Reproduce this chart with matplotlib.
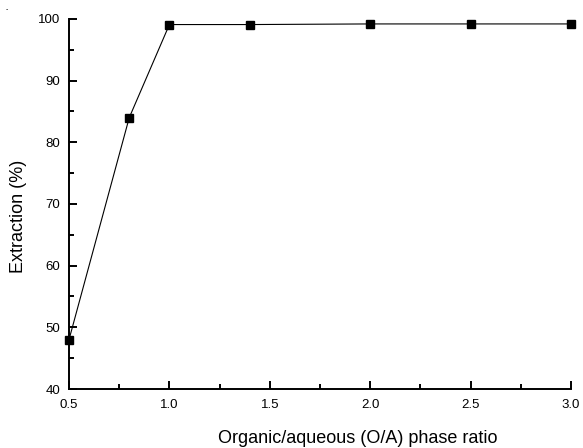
import matplotlib
matplotlib.use("Agg")
import matplotlib.pyplot as plt
from matplotlib.ticker import MultipleLocator

ratio = [0.5, 0.8, 1.0, 1.4, 2.0, 2.5, 3.0]
extraction = [48.0, 84.0, 99.1, 99.1, 99.2, 99.2, 99.2]

plt.rcParams['font.family'] = ['Liberation Sans', 'DejaVu Sans']

fig = plt.figure(figsize=(5.83, 4.48), dpi=100)
ax = fig.add_axes([69/583, 1-389/448, (571-69)/583, (389-19)/448])

ax.plot(ratio, extraction, color='black', lw=0.8, marker='s', ms=6,
        mfc='black', mec='black', clip_on=False, zorder=3)

ax.set_xlim(0.5, 3.0)
ax.set_ylim(40, 100)
ax.xaxis.set_major_locator(MultipleLocator(0.5))
ax.xaxis.set_minor_locator(MultipleLocator(0.25))
ax.yaxis.set_major_locator(MultipleLocator(10))
ax.yaxis.set_minor_locator(MultipleLocator(5))
ax.xaxis.set_major_formatter(plt.FormatStrFormatter('%.1f'))

for s in ['top', 'right']:
    ax.spines[s].set_visible(False)
for s in ['left', 'bottom']:
    ax.spines[s].set_linewidth(1.4)

ax.tick_params(which='major', direction='in', length=6, width=1.4, labelsize=9.5)
ax.tick_params(axis='x', which='major', pad=7)
ax.tick_params(axis='y', which='major', pad=6.5)
ax.tick_params(which='minor', direction='in', length=3.5, width=1.4)

ax.set_xlabel('Organic/aqueous (O/A) phase ratio', fontsize=13)
ax.set_ylabel('Extraction (%)', fontsize=13)
ax.xaxis.set_label_coords((358 - 69) / 502, (389 - 430) / 370)
ax.yaxis.set_label_coords((27 - 69) / 502, (389 - 216) / 370)

fig.text(7/583, 1 - 10/448, '-', fontsize=5, ha='center', va='center')

fig.savefig('out.png', dpi=100)
